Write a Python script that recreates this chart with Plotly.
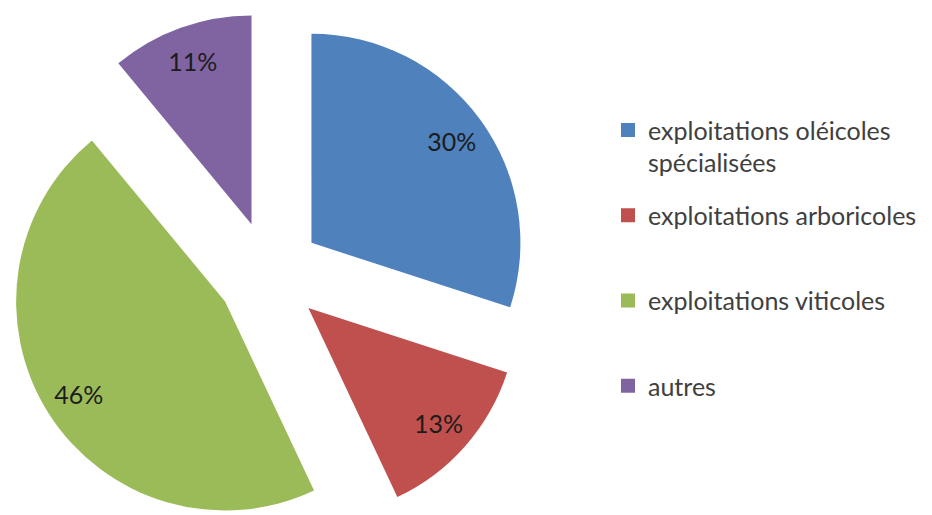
import plotly.graph_objects as go

# ---- data ----
categories = [
    "exploitations oléicoles<br>spécialisées",
    "exploitations arboricoles",
    "exploitations viticoles",
    "autres",
]
values = [30, 13, 46, 11]
colors = ["#4F81BD", "#C0504D", "#9BBB59", "#8064A2"]

FONT = "Lato"
PULL = 0.25
DOMAIN = dict(x=[0, 0.5605], y=[0, 1])

fig = go.Figure()

# main exploded pie
fig.add_trace(go.Pie(
    labels=categories, values=values, sort=False, direction="clockwise",
    rotation=0, pull=[PULL] * len(values), domain=DOMAIN,
    marker=dict(colors=colors, line=dict(width=0)),
    textinfo="none", hoverinfo="label+percent", showlegend=False,
))

# transparent ring (same geometry) carrying the percentage labels
fig.add_trace(go.Pie(
    labels=categories, values=values, sort=False, direction="clockwise",
    rotation=0, pull=[PULL] * len(values), domain=DOMAIN, hole=0.66,
    marker=dict(colors=["rgba(0,0,0,0)"] * len(values), line=dict(width=0)),
    textinfo="percent", textposition="inside", insidetextorientation="horizontal",
    insidetextfont=dict(family=FONT, size=25, color="#1c1c1c"),
    hoverinfo="skip", showlegend=False,
))

# legend entries
for i, (name, col) in enumerate(zip(categories, colors)):
    label = name if "<br>" in name else name + "<br>\u00a0"
    fig.add_trace(go.Scatter(
        x=[None], y=[None], mode="markers", name=label,
        legendgroup=f"g{i}",
        marker=dict(symbol="square", size=14, color=col, line=dict(width=0)),
    ))

fig.update_layout(
    width=932, height=528,
    margin=dict(l=0, r=0, t=3, b=0, pad=0),
    paper_bgcolor="white", plot_bgcolor="white",
    xaxis=dict(visible=False), yaxis=dict(visible=False),
    showlegend=True,
    legend=dict(
        x=600 / 932, xanchor="left", y=1 - 96.2 / 525, yanchor="top",
        valign="top", traceorder="grouped", tracegroupgap=17.3,
        font=dict(family=FONT, size=25, color="#404040"),
        bgcolor="rgba(0,0,0,0)", borderwidth=0,
    ),
)

fig.write_html("out.html")
